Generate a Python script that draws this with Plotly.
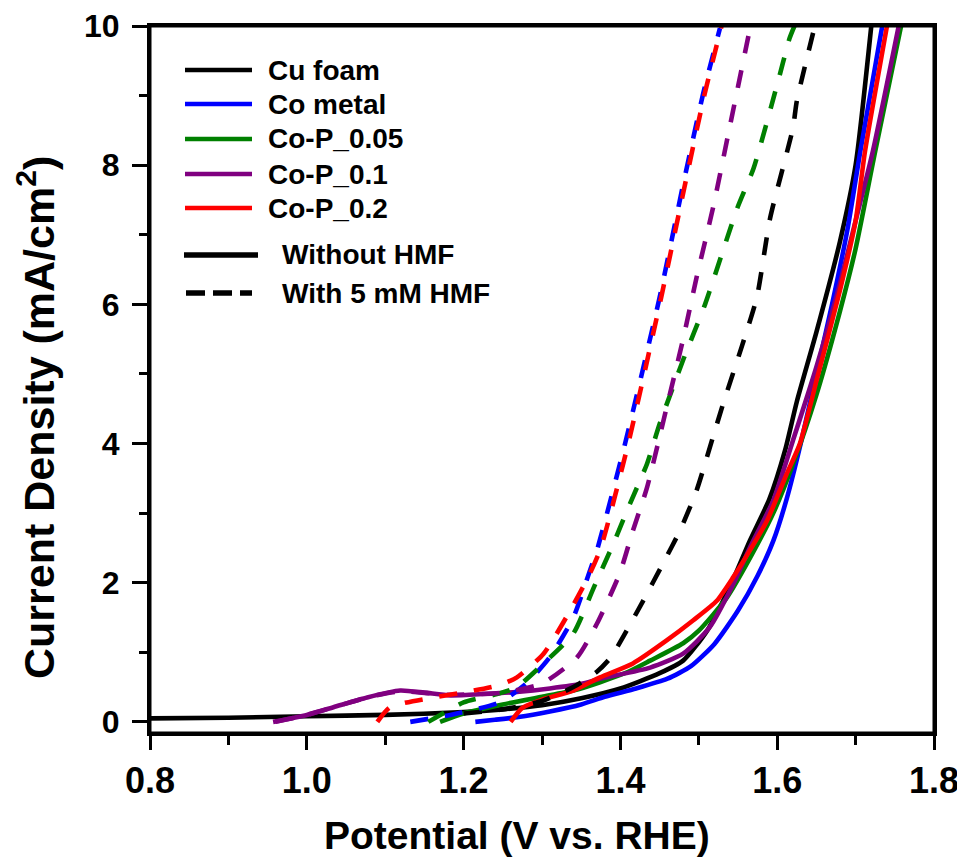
import plotly.graph_objects as go

# ---- data (potential V vs RHE, current density mA/cm2) ----
series_names = ["Cu foam", "Co metal", "Co-P_0.05", "Co-P_0.1", "Co-P_0.2"]
series_colors = ["#000000", "#0000FF", "#008000", "#800080", "#FF0000"]

# Without HMF (solid)
cu_v = [0.80, 0.90, 1.00, 1.10, 1.20, 1.25, 1.30, 1.35, 1.40, 1.45, 1.48, 1.51, 1.54, 1.565, 1.59, 1.61, 1.625, 1.65, 1.68, 1.70, 1.72]
cu_j = [0.05, 0.06, 0.08, 0.10, 0.14, 0.18, 0.24, 0.34, 0.48, 0.70, 0.88, 1.30, 1.95, 2.60, 3.20, 3.90, 4.60, 5.60, 6.90, 8.00, 10.0]
co_v = [1.215, 1.24, 1.27, 1.31, 1.35, 1.38, 1.42, 1.46, 1.49, 1.52, 1.55, 1.575, 1.595, 1.612, 1.63, 1.65, 1.67, 1.69, 1.706, 1.734]
co_j = [0.00, 0.03, 0.07, 0.15, 0.25, 0.36, 0.48, 0.62, 0.80, 1.12, 1.60, 2.10, 2.60, 3.20, 4.00, 5.00, 6.00, 7.10, 8.20, 10.0]
p005_v = [1.17, 1.20, 1.25, 1.30, 1.34, 1.374, 1.41, 1.438, 1.48, 1.50, 1.536, 1.565, 1.595, 1.62, 1.65, 1.68, 1.70, 1.725, 1.758]
p005_j = [0.00, 0.12, 0.25, 0.36, 0.45, 0.57, 0.72, 0.88, 1.13, 1.31, 1.79, 2.35, 3.00, 3.70, 4.70, 5.90, 6.80, 8.20, 10.0]
p01_v = [0.957, 1.00, 1.034, 1.077, 1.119, 1.15, 1.183, 1.225, 1.268, 1.31, 1.352, 1.374, 1.438, 1.48, 1.514, 1.544, 1.565, 1.595, 1.62, 1.65, 1.68, 1.70, 1.722, 1.755]
p01_j = [0.00, 0.10, 0.21, 0.35, 0.45, 0.42, 0.38, 0.40, 0.43, 0.48, 0.55, 0.62, 0.78, 0.98, 1.36, 1.98, 2.50, 3.18, 4.04, 5.10, 6.30, 7.20, 8.20, 10.0]
p02_v = [1.26, 1.275, 1.30, 1.34, 1.374, 1.416, 1.459, 1.493, 1.523, 1.544, 1.565, 1.587, 1.612, 1.629, 1.65, 1.68, 1.70, 1.712, 1.740]
p02_j = [0.00, 0.20, 0.32, 0.45, 0.64, 0.84, 1.17, 1.46, 1.74, 2.08, 2.46, 2.89, 3.56, 4.00, 4.90, 6.20, 7.20, 8.20, 10.0]

# With 5 mM HMF (dashed)
cu_h_v = [1.20, 1.25, 1.30, 1.34, 1.37, 1.388, 1.429, 1.454, 1.476, 1.497, 1.518, 1.531, 1.555, 1.574, 1.591, 1.62, 1.625, 1.648]
cu_h_j = [0.12, 0.18, 0.30, 0.50, 0.72, 0.93, 1.74, 2.27, 2.75, 3.32, 4.09, 4.57, 5.40, 6.10, 7.24, 8.53, 8.92, 10.0]
co_h_v = [1.132, 1.183, 1.246, 1.28, 1.31, 1.34, 1.361, 1.37, 1.406, 1.45, 1.48, 1.505, 1.527]
co_h_j = [0.00, 0.10, 0.28, 0.55, 0.93, 1.50, 2.17, 2.46, 4.00, 6.10, 7.72, 9.00, 9.97]
p005_h_v = [1.155, 1.20, 1.246, 1.268, 1.302, 1.34, 1.366, 1.391, 1.412, 1.434, 1.45, 1.48, 1.508, 1.549, 1.57, 1.60, 1.616, 1.622]
p005_h_j = [0.00, 0.28, 0.41, 0.50, 0.84, 1.27, 1.93, 2.56, 3.13, 3.71, 4.28, 5.20, 6.00, 7.38, 7.96, 9.16, 9.83, 10.0]
p01_h_v = [0.96, 1.00, 1.04, 1.08, 1.12, 1.18, 1.25, 1.30, 1.345, 1.37, 1.399, 1.416, 1.434, 1.459, 1.48, 1.497, 1.518, 1.54, 1.561, 1.566]
p01_h_j = [0.00, 0.10, 0.23, 0.36, 0.44, 0.39, 0.42, 0.55, 0.93, 1.41, 2.13, 2.75, 3.37, 4.52, 5.50, 6.38, 7.38, 8.58, 9.73, 10.0]
p02_h_v = [1.09, 1.106, 1.161, 1.204, 1.246, 1.268, 1.302, 1.336, 1.361, 1.375, 1.41, 1.452, 1.482, 1.507, 1.529]
p02_h_j = [0.00, 0.21, 0.35, 0.43, 0.53, 0.64, 0.98, 1.60, 2.13, 2.50, 4.00, 6.10, 7.70, 9.00, 10.0]

solid_v = [cu_v, co_v, p005_v, p01_v, p02_v]
solid_j = [cu_j, co_j, p005_j, p01_j, p02_j]
dash_v = [cu_h_v, co_h_v, p005_h_v, p01_h_v, p02_h_v]
dash_j = [cu_h_j, co_h_j, p005_h_j, p01_h_j, p02_h_j]

condition_labels = ["Without HMF", "With 5 mM HMF"]
x_title = "Potential (V vs. RHE)"
y_title = "Current Density (mA/cm<sup>2</sup>)"

x_ticks = [0.8, 1.0, 1.2, 1.4, 1.6, 1.8]
y_ticks = [0, 2, 4, 6, 8, 10]

FONT = "Liberation Sans, Arial, sans-serif"
DASH = "18px,17px"

fig = go.Figure()
for name, col, vv, jj in zip(series_names, series_colors, solid_v, solid_j):
    fig.add_trace(go.Scatter(x=vv, y=jj, mode="lines", name=name,
                             line=dict(color=col, width=4.6, shape="spline", smoothing=0.6),
                             showlegend=False))
for name, col, vv, jj in zip(series_names, series_colors, dash_v, dash_j):
    fig.add_trace(go.Scatter(x=vv, y=jj, mode="lines", name=name + " (HMF)",
                             line=dict(color=col, width=4.6, dash=DASH, shape="spline", smoothing=0.6),
                             showlegend=False))

# ---- page-pixel -> paper helpers (page has an 8px body margin) ----
X0, X1 = 150.0, 934.0
Y_TOP, Y0 = 26.0, 733.0
W_PLOT = X1 - X0
H_PLOT = Y0 - Y_TOP

def px(xp):
    return (xp - X0) / W_PLOT

def py(yp):
    return (Y0 - yp) / H_PLOT

# plot frame
fig.add_shape(type="rect", xref="paper", yref="paper", x0=0, x1=1, y0=0, y1=1,
              line=dict(color="black", width=3), layer="above")

# ---- manual legend ----
rows = [70, 104, 139, 174, 208]
for name, col, yy in zip(series_names, series_colors, rows):
    fig.add_shape(type="line", xref="paper", yref="paper",
                  x0=px(185), x1=px(252), y0=py(yy), y1=py(yy),
                  line=dict(color=col, width=4.6))
    fig.add_annotation(xref="paper", yref="paper", x=px(266), y=py(yy),
                       text=name, showarrow=False, xanchor="left", yanchor="middle",
                       font=dict(family=FONT, size=28, color="black", weight="bold"))

cond_rows = [255, 293]
fig.add_shape(type="line", xref="paper", yref="paper",
              x0=px(184), x1=px(258), y0=py(cond_rows[0]), y1=py(cond_rows[0]),
              line=dict(color="black", width=5.5))
fig.add_shape(type="line", xref="paper", yref="paper",
              x0=px(186), x1=px(252), y0=py(cond_rows[1]), y1=py(cond_rows[1]),
              line=dict(color="black", width=5.5, dash="19px,8px"))
for lab, yy in zip(condition_labels, cond_rows):
    fig.add_annotation(xref="paper", yref="paper", x=px(280), y=py(yy),
                       text=lab, showarrow=False, xanchor="left", yanchor="middle",
                       font=dict(family=FONT, size=28, color="black", weight="bold"))

# ---- axis titles ----
fig.add_annotation(xref="paper", yref="paper", x=px(517), y=py(835),
                   text=x_title, showarrow=False, xanchor="center", yanchor="middle",
                   font=dict(family=FONT, size=39, color="black", weight="bold"))
fig.add_annotation(xref="paper", yref="paper", x=px(36), y=py(418),
                   text=y_title, showarrow=False, xanchor="center", yanchor="middle",
                   textangle=-90,
                   font=dict(family=FONT, size=43, color="black", weight="bold"))

axis_common = dict(showline=True, linecolor="black", linewidth=3, mirror=True,
                   ticks="outside", tickcolor="black", tickwidth=3, showgrid=False,
                   zeroline=False, ticklabeloverflow="allow")

fig.update_xaxes(range=[0.8, 1.8], tickvals=x_ticks, ticktext=[f"{t:.1f}" for t in x_ticks],
                 ticklen=14,
                 minor=dict(ticks="outside", ticklen=9, tickwidth=2.5, tickcolor="black", dtick=0.1, tick0=0.8),
                 tickfont=dict(family=FONT, size=36, color="black", weight="bold"),
                 **axis_common)
fig.update_yaxes(range=[-0.16, 10.0], tickvals=y_ticks, ticktext=[str(t) for t in y_ticks],
                 ticklen=15, ticklabelstandoff=6,
                 minor=dict(ticks="outside", ticklen=8, tickwidth=2.5, tickcolor="black", dtick=1, tick0=0),
                 tickfont=dict(family=FONT, size=32, color="black", weight="bold"),
                 **axis_common)

fig.update_layout(width=957, height=850,
                  margin=dict(l=142, r=31, t=18, b=125, autoexpand=False),
                  plot_bgcolor="white", paper_bgcolor="white",
                  showlegend=False)

fig.write_html("out.html")
